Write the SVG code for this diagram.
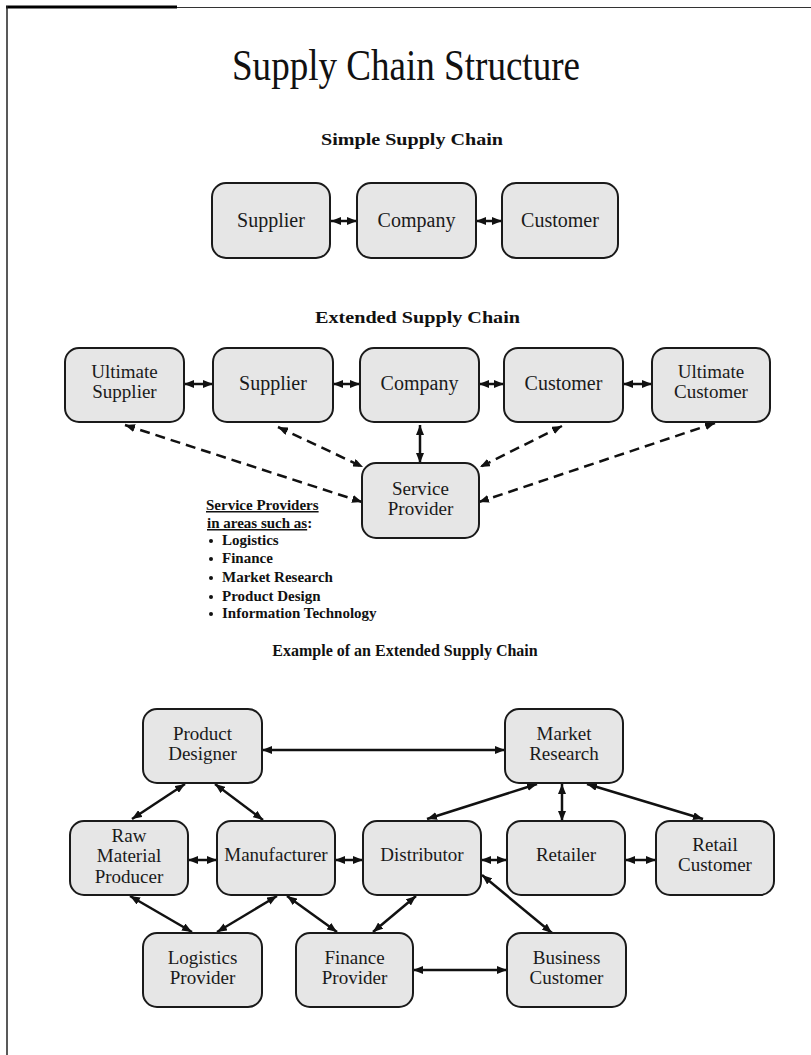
<svg xmlns="http://www.w3.org/2000/svg" width="811" height="1055" viewBox="0 0 811 1055">
<style>
.box{fill:#e6e6e6;stroke:#1a1a1a;stroke-width:2}
.t{font-family:"Liberation Serif","Times New Roman",serif;font-size:20px;fill:#1a1a1a;text-anchor:middle}
.t2{font-family:"Liberation Serif","Times New Roman",serif;font-size:19px;fill:#1a1a1a;text-anchor:middle}
.te{font-family:"Liberation Serif","Times New Roman",serif;font-size:19px;fill:#1a1a1a;text-anchor:middle}
.h{font-family:"Liberation Serif","Times New Roman",serif;font-size:17px;font-weight:bold;fill:#111}
.l{font-family:"Liberation Serif","Times New Roman",serif;font-size:15px;font-weight:bold;fill:#111}
.c{stroke:#111;stroke-width:2.5;fill:none;marker-start:url(#ah);marker-end:url(#ah)}
.d{stroke:#111;stroke-width:2.5;fill:none;stroke-dasharray:10 6;marker-start:url(#ah);marker-end:url(#ah)}
</style>
<defs>
<marker id="ah" viewBox="0 0 10 8" refX="10" refY="4" markerWidth="10" markerHeight="8" markerUnits="userSpaceOnUse" orient="auto-start-reverse">
<path d="M0,0 L10,4 L0,8 z" fill="#111"/>
</marker>
</defs>
<rect width="811" height="1055" fill="#fff"/>
<g id="frame">
<line x1="177" y1="7.5" x2="811" y2="7.5" stroke="#333" stroke-width="1.2"/>
<line x1="6" y1="7" x2="177" y2="7" stroke="#000" stroke-width="3"/>
<line x1="7" y1="6" x2="7" y2="1055" stroke="#222" stroke-width="1.5"/>
</g>
<text x="406" y="80" text-anchor="middle" textLength="348" lengthAdjust="spacingAndGlyphs" style="font-family:'Liberation Serif','Times New Roman',serif;font-size:44px;fill:#111">Supply Chain Structure</text>
<text class="h" x="321" y="145" textLength="182" lengthAdjust="spacingAndGlyphs">Simple Supply Chain</text>
<text class="h" x="315" y="323" textLength="205" lengthAdjust="spacingAndGlyphs">Extended Supply Chain</text>
<text class="h" x="405" y="656" text-anchor="middle" style="font-size:16px">Example of an Extended Supply Chain</text>

<g id="connectors">
<!-- simple -->
<line class="c" x1="331" y1="221" x2="357" y2="221"/>
<line class="c" x1="476" y1="221" x2="502" y2="221"/>
<!-- extended -->
<line class="c" x1="184" y1="384" x2="213" y2="384"/>
<line class="c" x1="333" y1="384" x2="360" y2="384"/>
<line class="c" x1="479" y1="384" x2="504" y2="384"/>
<line class="c" x1="623" y1="384" x2="652" y2="384"/>
<line class="d" x1="125" y1="425" x2="362" y2="502"/>
<line class="d" x1="278" y1="427" x2="363" y2="467"/>
<line class="c" x1="420" y1="425" x2="420" y2="463"/>
<line class="d" x1="562" y1="426" x2="480" y2="467"/>
<line class="d" x1="715" y1="423" x2="479" y2="502"/>
<!-- example -->
<line class="c" x1="262" y1="750" x2="505" y2="750"/>
<line class="c" x1="185" y1="784" x2="132" y2="819"/>
<line class="c" x1="215" y1="784" x2="263" y2="820"/>
<line class="c" x1="188" y1="860" x2="217" y2="860"/>
<line class="c" x1="335" y1="860" x2="363" y2="860"/>
<line class="c" x1="481" y1="860" x2="507" y2="860"/>
<line class="c" x1="625" y1="860" x2="656" y2="860"/>
<line class="c" x1="537" y1="784" x2="427" y2="819"/>
<line class="c" x1="562" y1="784" x2="562" y2="821"/>
<line class="c" x1="587" y1="784" x2="703" y2="819"/>
<line class="c" x1="130" y1="896" x2="192" y2="932"/>
<line class="c" x1="277" y1="896" x2="217" y2="932"/>
<line class="c" x1="287" y1="896" x2="337" y2="932"/>
<line class="c" x1="416" y1="896" x2="373" y2="932"/>
<line class="c" x1="482" y1="875" x2="552" y2="933"/>
<line class="c" x1="413" y1="970" x2="507" y2="970"/>
</g>

<g id="s-supplier"><rect class="box" x="212" y="183" width="118" height="75" rx="14"/><text class="t" x="271" y="227">Supplier</text></g>
<g id="s-company"><rect class="box" x="357" y="183" width="119" height="75" rx="14"/><text class="t" x="416.5" y="227">Company</text></g>
<g id="s-customer"><rect class="box" x="502" y="183" width="116" height="75" rx="14"/><text class="t" x="560" y="227">Customer</text></g>

<g id="e-ultimate-supplier"><rect class="box" x="65" y="348" width="119" height="74" rx="14"/><text class="t2" x="124.5" y="378">Ultimate</text><text class="t2" x="124.5" y="398">Supplier</text></g>
<g id="e-supplier"><rect class="box" x="213" y="348" width="120" height="74" rx="14"/><text class="t" x="273" y="390">Supplier</text></g>
<g id="e-company"><rect class="box" x="360" y="348" width="119" height="74" rx="14"/><text class="t" x="419.5" y="390">Company</text></g>
<g id="e-customer"><rect class="box" x="504" y="348" width="119" height="74" rx="14"/><text class="t" x="563.5" y="390">Customer</text></g>
<g id="e-ultimate-customer"><rect class="box" x="652" y="348" width="118" height="74" rx="14"/><text class="t2" x="711" y="378">Ultimate</text><text class="t2" x="711" y="398">Customer</text></g>
<g id="e-service-provider"><rect class="box" x="362" y="463" width="117" height="75" rx="14"/><text class="t2" x="420.5" y="495">Service</text><text class="t2" x="420.5" y="515">Provider</text></g>

<g id="service-list">
<text class="l" x="206" y="510" text-decoration="underline">Service Providers</text>
<text class="l" x="207" y="528"> <tspan text-decoration="underline">in areas such as</tspan>:</text>
<g fill="#111"><circle cx="211" cy="541" r="2"/><circle cx="211" cy="559" r="2"/><circle cx="211" cy="578" r="2"/><circle cx="211" cy="597" r="2"/><circle cx="211" cy="614" r="2"/></g>
<text class="l" x="222" y="545">Logistics</text>
<text class="l" x="222" y="563">Finance</text>
<text class="l" x="222" y="582">Market Research</text>
<text class="l" x="222" y="601">Product Design</text>
<text class="l" x="222" y="618">Information Technology</text>
</g>

<g id="x-product-designer"><rect class="box" x="143" y="709" width="119" height="74" rx="14"/><text class="te" x="202.5" y="740">Product</text><text class="te" x="202.5" y="760">Designer</text></g>
<g id="x-market-research"><rect class="box" x="505" y="709" width="118" height="74" rx="14"/><text class="te" x="564" y="740">Market</text><text class="te" x="564" y="760">Research</text></g>
<g id="x-raw-material"><rect class="box" x="70" y="821" width="118" height="74" rx="14"/><text class="te" x="129" y="842">Raw</text><text class="te" x="129" y="862">Material</text><text class="te" x="129" y="883">Producer</text></g>
<g id="x-manufacturer"><rect class="box" x="217" y="821" width="118" height="74" rx="14"/><text class="te" x="276" y="861">Manufacturer</text></g>
<g id="x-distributor"><rect class="box" x="363" y="821" width="118" height="74" rx="14"/><text class="te" x="422" y="861">Distributor</text></g>
<g id="x-retailer"><rect class="box" x="507" y="821" width="118" height="74" rx="14"/><text class="te" x="566" y="861">Retailer</text></g>
<g id="x-retail-customer"><rect class="box" x="656" y="821" width="118" height="74" rx="14"/><text class="te" x="715" y="851">Retail</text><text class="te" x="715" y="871">Customer</text></g>
<g id="x-logistics-provider"><rect class="box" x="143" y="933" width="119" height="74" rx="14"/><text class="te" x="202.5" y="964">Logistics</text><text class="te" x="202.5" y="984">Provider</text></g>
<g id="x-finance-provider"><rect class="box" x="296" y="933" width="117" height="74" rx="14"/><text class="te" x="354.5" y="964">Finance</text><text class="te" x="354.5" y="984">Provider</text></g>
<g id="x-business-customer"><rect class="box" x="507" y="933" width="119" height="74" rx="14"/><text class="te" x="566.5" y="964">Business</text><text class="te" x="566.5" y="984">Customer</text></g>
</svg>
